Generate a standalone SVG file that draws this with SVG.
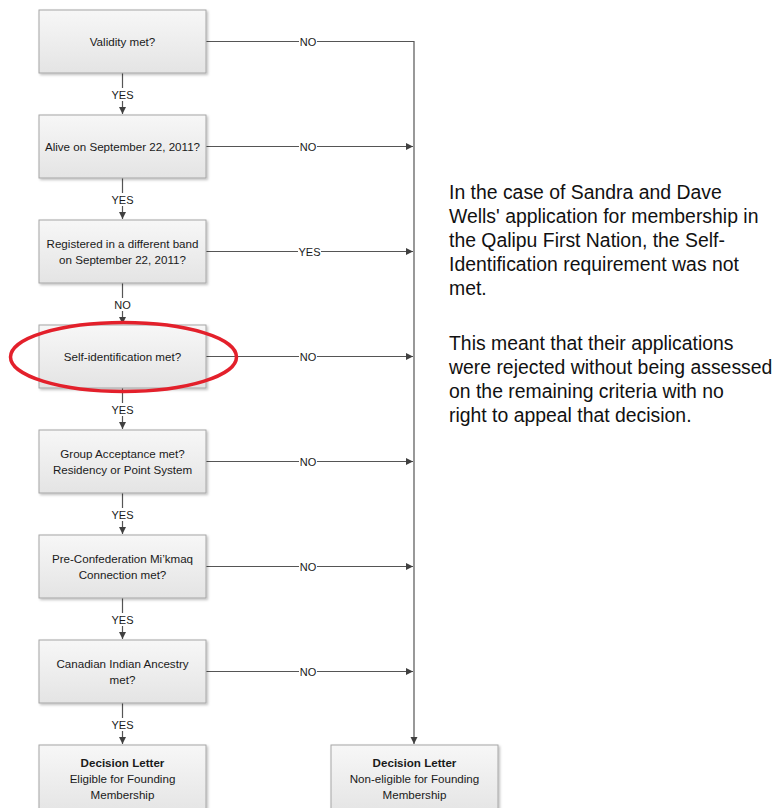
<svg xmlns="http://www.w3.org/2000/svg" width="780" height="808" viewBox="0 0 780 808">
<defs>
<linearGradient id="g" x1="0" y1="0" x2="0" y2="1">
<stop offset="0" stop-color="#f7f7f7"/>
<stop offset="1" stop-color="#e4e4e4"/>
</linearGradient>
<marker id="ah" markerWidth="8" markerHeight="8" refX="7" refY="4" orient="auto" markerUnits="userSpaceOnUse">
<path d="M0,0.5 L7,4 L0,7.5 z" fill="#404040"/>
</marker>
<filter id="sh" x="-10%" y="-10%" width="130%" height="130%">
<feDropShadow dx="1.5" dy="1.5" stdDeviation="1.2" flood-color="#000" flood-opacity="0.25"/>
</filter>
</defs>
<style>
.box{fill:url(#g);stroke:#a6a6a6;stroke-width:1;filter:url(#sh)}
.t{font-family:"Liberation Sans",Arial,sans-serif;font-size:11.6px;fill:#1a1a1a;text-anchor:middle}
.b{font-weight:bold}
.c{stroke:#555;stroke-width:1.2;fill:none}
.a{marker-end:url(#ah)}
.lbl{font-family:"Liberation Sans",Arial,sans-serif;font-size:11px;fill:#1a1a1a;text-anchor:middle}
.lb{fill:#fff}
.side{font-family:"Liberation Sans",Arial,sans-serif;font-size:19.4px;fill:#111}
</style>
<rect width="780" height="808" fill="#fff"/>
<g id="connectors">
<path class="c a" d="M206,41.5 H414 V744"/>
<path class="c a" d="M206,146.5 H413"/>
<path class="c a" d="M206,251.5 H413"/>
<path class="c a" d="M206,356.5 H413"/>
<path class="c a" d="M206,461.5 H413"/>
<path class="c a" d="M206,566.5 H413"/>
<path class="c a" d="M206,671.5 H413"/>
<path class="c a" d="M122.5,73 V114"/>
<path class="c a" d="M122.5,178 V219"/>
<path class="c a" d="M122.5,283 V324"/>
<path class="c a" d="M122.5,388 V429"/>
<path class="c a" d="M122.5,493 V534"/>
<path class="c a" d="M122.5,598 V639"/>
<path class="c a" d="M122.5,703 V744"/>
<rect class="lb" x="299" y="35" width="18" height="12"/>
<text class="lbl" x="308" y="45.5">NO</text>
<rect class="lb" x="299" y="140" width="18" height="12"/>
<text class="lbl" x="308" y="150.5">NO</text>
<rect class="lb" x="298" y="245" width="23" height="12"/>
<text class="lbl" x="309.5" y="255.5">YES</text>
<rect class="lb" x="299" y="350" width="18" height="12"/>
<text class="lbl" x="308" y="360.5">NO</text>
<rect class="lb" x="299" y="455" width="18" height="12"/>
<text class="lbl" x="308" y="465.5">NO</text>
<rect class="lb" x="299" y="560" width="18" height="12"/>
<text class="lbl" x="308" y="570.5">NO</text>
<rect class="lb" x="299" y="665" width="18" height="12"/>
<text class="lbl" x="308" y="675.5">NO</text>
<rect class="lb" x="108" y="88" width="29" height="13"/>
<text class="lbl" x="122.5" y="98.5">YES</text>
<rect class="lb" x="108" y="193" width="29" height="13"/>
<text class="lbl" x="122.5" y="203.5">YES</text>
<rect class="lb" x="110" y="298" width="25" height="13"/>
<text class="lbl" x="122.5" y="308.5">NO</text>
<rect class="lb" x="108" y="403" width="29" height="13"/>
<text class="lbl" x="122.5" y="413.5">YES</text>
<rect class="lb" x="108" y="508" width="29" height="13"/>
<text class="lbl" x="122.5" y="518.5">YES</text>
<rect class="lb" x="108" y="613" width="29" height="13"/>
<text class="lbl" x="122.5" y="623.5">YES</text>
<rect class="lb" x="108" y="718" width="29" height="13"/>
<text class="lbl" x="122.5" y="728.5">YES</text>
</g>
<g id="n1"><rect class="box" x="39" y="10" width="167" height="63"/><text class="t" x="122.5" y="46">Validity met?</text></g>
<g id="n2"><rect class="box" x="39" y="115" width="167" height="63"/><text class="t" x="122.5" y="151">Alive on September 22, 2011?</text></g>
<g id="n3"><rect class="box" x="39" y="220" width="167" height="63"/><text class="t" x="122.5" y="248">Registered in a different band</text><text class="t" x="122.5" y="264">on September 22, 2011?</text></g>
<g id="n4"><rect class="box" x="39" y="325" width="167" height="63"/><text class="t" x="122.5" y="361">Self-identification met?</text></g>
<g id="n5"><rect class="box" x="39" y="430" width="167" height="63"/><text class="t" x="122.5" y="458">Group Acceptance met?</text><text class="t" x="122.5" y="474">Residency or Point System</text></g>
<g id="n6"><rect class="box" x="39" y="535" width="167" height="63"/><text class="t" x="122.5" y="563">Pre-Confederation Mi’kmaq</text><text class="t" x="122.5" y="579">Connection met?</text></g>
<g id="n7"><rect class="box" x="39" y="640" width="167" height="63"/><text class="t" x="122.5" y="668">Canadian Indian Ancestry</text><text class="t" x="122.5" y="684">met?</text></g>
<g id="n8"><rect class="box" x="39" y="745" width="167" height="70"/><text class="t b" x="122.5" y="767">Decision Letter</text><text class="t" x="122.5" y="783">Eligible for Founding</text><text class="t" x="122.5" y="799">Membership</text></g>
<g id="n9"><rect class="box" x="331" y="745" width="167" height="70"/><text class="t b" x="414.5" y="767">Decision Letter</text><text class="t" x="414.5" y="783">Non-eligible for Founding</text><text class="t" x="414.5" y="799">Membership</text></g>
<ellipse id="highlight" cx="123.5" cy="357" rx="113" ry="34.5" fill="none" stroke="#e3202b" stroke-width="3.5"/>
<g id="note" class="side">
<text x="449" y="199">In the case of Sandra and Dave</text>
<text x="449" y="223">Wells' application for membership in</text>
<text x="449" y="247">the Qalipu First Nation, the Self-</text>
<text x="449" y="271">Identification requirement was not</text>
<text x="449" y="295">met.</text>
<text x="449" y="350">This meant that their applications</text>
<text x="449" y="374">were rejected without being assessed</text>
<text x="449" y="398">on the remaining criteria with no</text>
<text x="449" y="422">right to appeal that decision.</text>
</g>
</svg>
